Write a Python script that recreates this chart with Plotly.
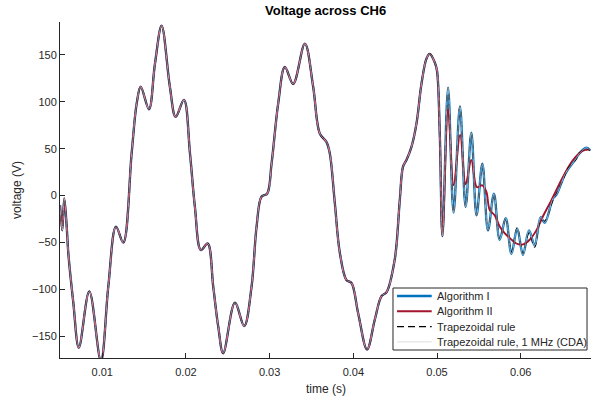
import plotly.graph_objects as go

# Time base (s) and voltage (V) of the part where all solvers agree
t_common = [0.00495, 0.00522, 0.00546, 0.00575, 0.00594, 0.00654, 0.00720, 0.00845,
            0.00984, 0.01072, 0.01164, 0.01251, 0.01351, 0.01411, 0.01459, 0.01558,
            0.01629, 0.01709, 0.01808, 0.01877, 0.01976, 0.02048, 0.02107, 0.02179,
            0.02259, 0.02326, 0.02385, 0.02445, 0.02585, 0.02696, 0.02784, 0.02844,
            0.02904, 0.02970, 0.03023, 0.03102, 0.03182, 0.03281, 0.03421, 0.03520,
            0.03600, 0.03680, 0.03719, 0.03779, 0.03839, 0.03918, 0.03978, 0.04057,
            0.04164, 0.04257, 0.04337, 0.04396, 0.04495, 0.04555, 0.04594, 0.04635,
            0.04695, 0.04755, 0.04814, 0.04874, 0.04913, 0.04973, 0.05000, 0.05033,
            0.05065]
v_common = [-10, -37, -3, -33, -61, -114, -162, -102,
            -176, -97, -33, -50, 45, 98, 116, 92,
            140, 181, 116, 84, 102, 45, -12, -58,
            -51, -97, -139, -168, -114, -139, -97, -33,
            -1, 2, 34, 98, 137, 119, 162, 116,
            66, 57, 45, -8, -61, -90, -93, -125,
            -164, -132, -107, -103, -68, -5, 31, 38,
            52, 77, 119, 146, 151, 142, 133, 66,
            -43]

# Transient after the switching event at ~0.05 s
t_tail = [0.05132, 0.05198, 0.05274, 0.05342, 0.05410, 0.05472, 0.05542, 0.05609,
          0.05680, 0.05749, 0.05821, 0.05889, 0.05958, 0.06027, 0.06099, 0.06167,
          0.06239, 0.06287, 0.06386, 0.06427, 0.06525, 0.06565, 0.06665, 0.06684,
          0.06785, 0.06830]
v_alg1_tail = [115, -18, 95, -12, 67, -21, 34, -37,
               2, -47, -24, -62, -35, -63, -37, -53,
               -23, -29, -3, 1, 22, 28, 40, 43,
               51, 48]
v_trap_tail = [115, -18, 95, -12, 67, -21, 34, -37,
               2, -46, -24, -60, -34, -62, -40, -55,
               -26, -27, -5, 2, 21, 29, 39, 44,
               50, 48]

t_alg2_tail = [0.05132, 0.05198, 0.05276, 0.05342, 0.05410, 0.05477, 0.05542, 0.05590,
               0.05629, 0.05689, 0.05749, 0.05808, 0.05868, 0.05948, 0.06027, 0.06107,
               0.06187, 0.06266, 0.06366, 0.06505, 0.06625, 0.06744, 0.06830]
v_alg2_tail = [92, 11, 65, 12, 38, 9, 11, 4,
               -15, -21, -33, -40, -45, -51, -52, -47,
               -37, -22, -5, 20, 38, 48, 49]

series = [
    ("Algorithm I", t_common + t_tail, v_common + v_alg1_tail,
     dict(color="#0072BD", width=2.4)),
    ("Algorithm II", t_common + t_alg2_tail, v_common + v_alg2_tail,
     dict(color="#A2142F", width=1.9)),
    ("Trapezoidal rule", t_common + t_tail, v_common + v_trap_tail,
     dict(color="#000000", width=1.1, dash="6px,4px")),
    ("Trapezoidal rule, 1 MHz (CDA)", t_common + t_tail, v_common + v_alg1_tail,
     dict(color="#D0D0D0", width=0.7)),
]

fig = go.Figure()
for name, t, v, line in series:
    fig.add_trace(go.Scatter(x=t, y=v, mode="lines", name=name, showlegend=False,
                             line=dict(shape="spline", smoothing=1.0, **line)))

axis_col = "#262626"
font_family = "Liberation Sans, Arial, sans-serif"

# Compact boxed legend in the lower-right corner of the axes
shapes = [dict(type="rect", xref="paper", yref="paper",
               x0=0.6271, x1=0.9925, y0=0.0238, y1=0.2083,
               line=dict(color=axis_col, width=1), fillcolor="white", layer="above")]
annotations = []
row_y = [0.1845, 0.1390, 0.0934, 0.0479]
for (name, _, _, line), yy in zip(series, row_y):
    sample = dict(color=line["color"], width=line["width"])
    if "dash" in line:
        sample["dash"] = "7px,4px"
    shapes.append(dict(type="line", xref="paper", yref="paper",
                       x0=0.6347, x1=0.700, y0=yy, y1=yy, line=sample, layer="above"))
    annotations.append(dict(text=name, xref="paper", yref="paper", x=0.7062, y=yy,
                            xanchor="left", yanchor="middle", showarrow=False,
                            font=dict(size=11, color=axis_col)))

annotations += [
    dict(text="<b>Voltage across CH6</b>", xref="paper", yref="paper",
         x=0.5, y=1 + 11 / 336, yanchor="middle", xanchor="center",
         showarrow=False, font=dict(size=13, color="#000000")),
    dict(text="time (s)", xref="paper", yref="paper",
         x=0.5, y=-31 / 336, yanchor="middle", xanchor="center",
         showarrow=False, font=dict(size=12, color=axis_col)),
    dict(text="voltage (V)", xref="paper", yref="paper",
         x=-43 / 531, y=0.5, xanchor="center", yanchor="middle", textangle=-90,
         showarrow=False, font=dict(size=12, color=axis_col)),
]

fig.update_layout(
    width=600, height=403,
    margin=dict(l=60, r=9, t=22, b=45),
    paper_bgcolor="white", plot_bgcolor="white",
    font=dict(family=font_family, size=11, color=axis_col),
    showlegend=False,
    xaxis=dict(range=[0.00495, 0.0684], tickvals=[0.01, 0.02, 0.03, 0.04, 0.05, 0.06],
               ticktext=["0.01", "0.02", "0.03", "0.04", "0.05", "0.06"],
               showline=True, linecolor=axis_col, linewidth=1,
               ticks="inside", ticklen=5, tickcolor=axis_col, ticklabelstandoff=4,
               showgrid=False, zeroline=False),
    yaxis=dict(range=[-173, 185], tickvals=[-150, -100, -50, 0, 50, 100, 150],
               showline=True, linecolor=axis_col, linewidth=1,
               ticks="inside", ticklen=5, tickcolor=axis_col,
               showgrid=False, zeroline=False),
    shapes=shapes,
    annotations=annotations,
)

fig.write_html("out.html")
